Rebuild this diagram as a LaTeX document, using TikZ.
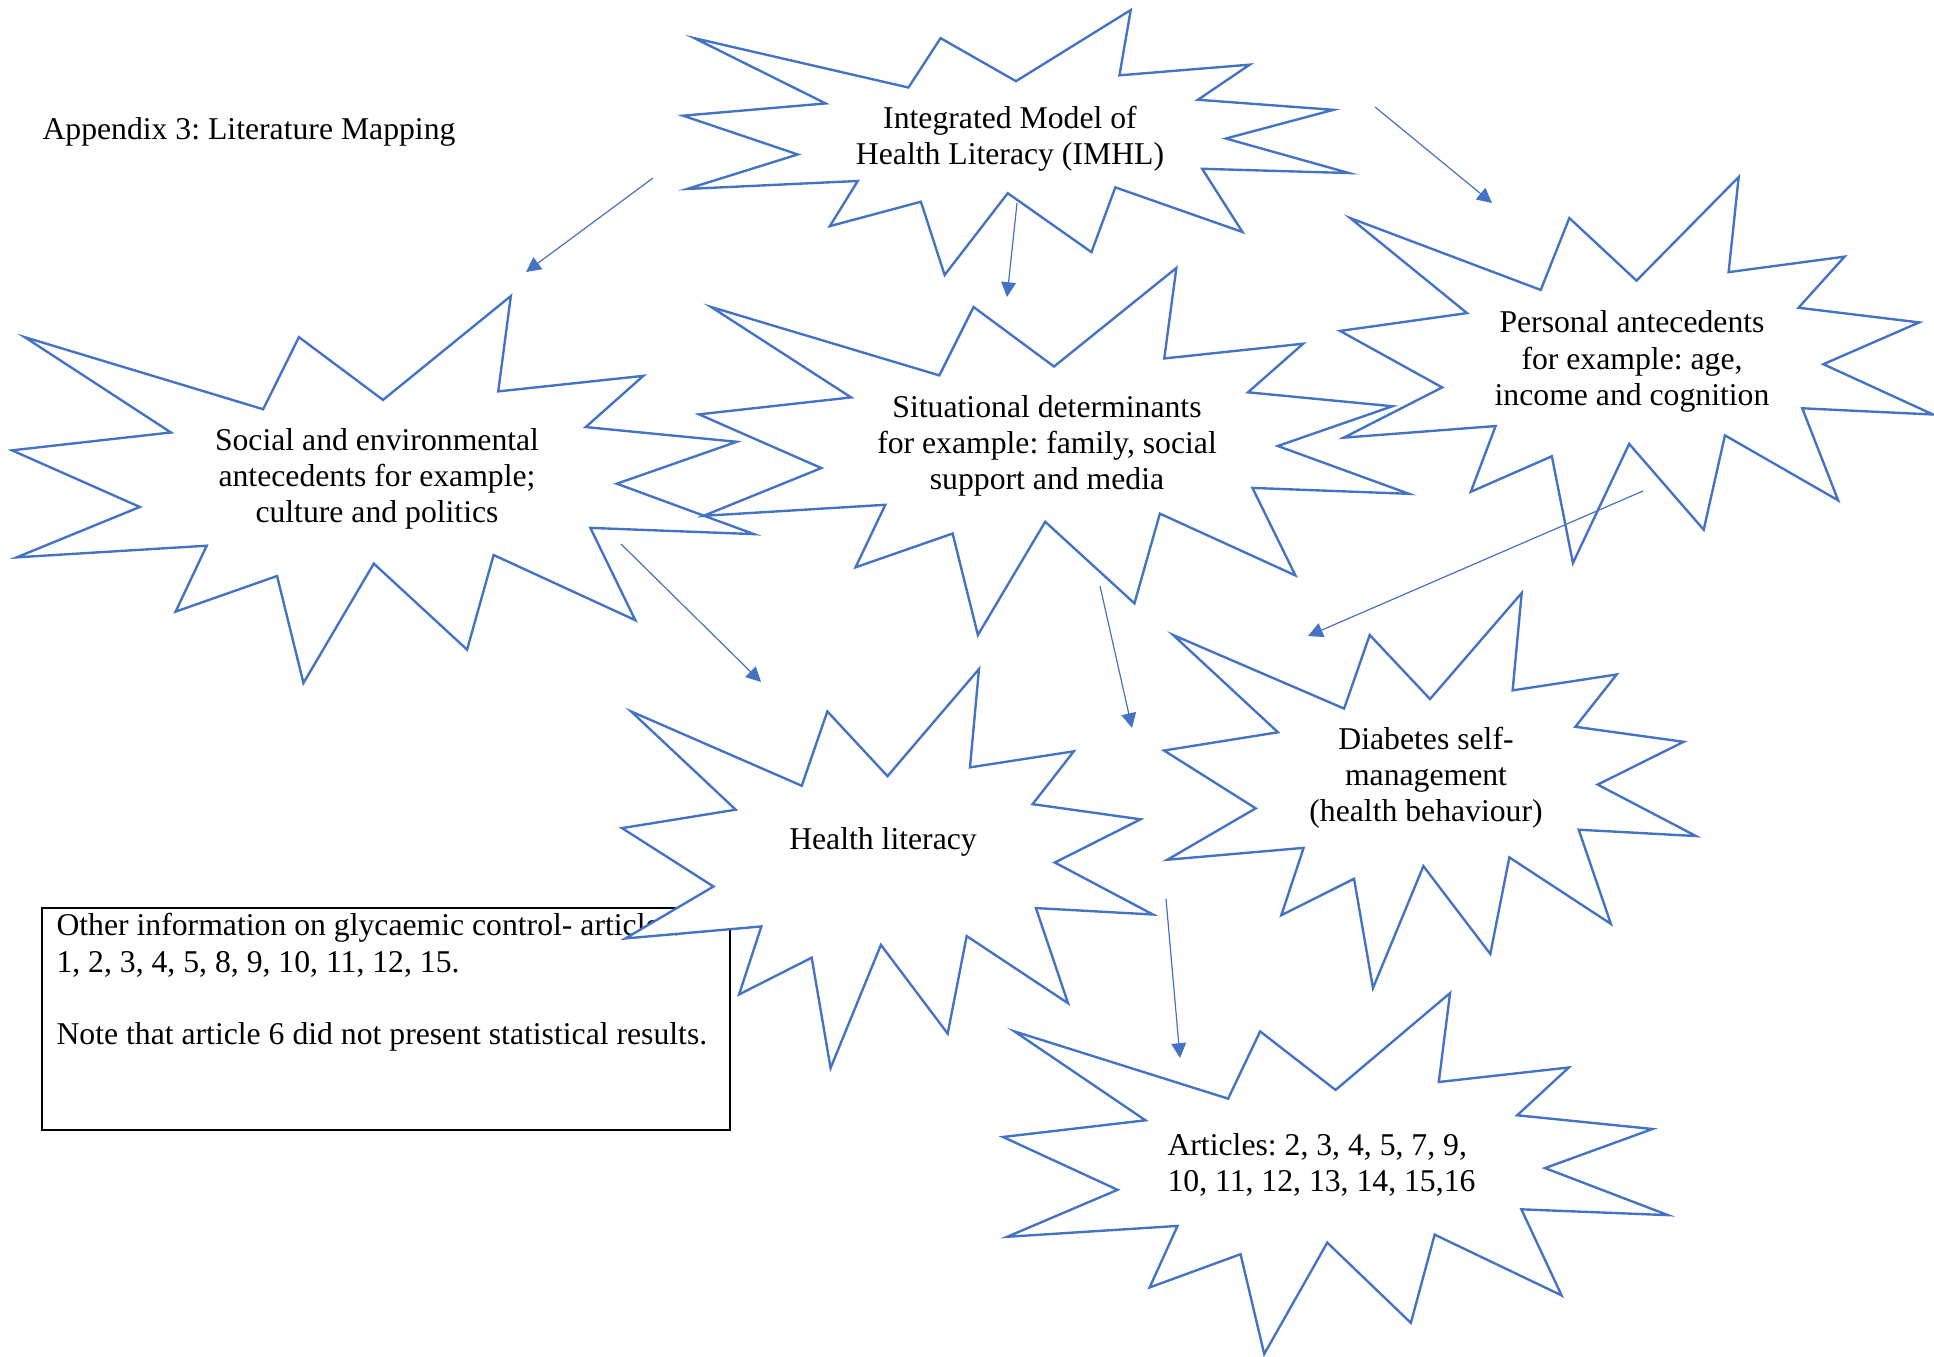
\documentclass[tikz,border=0pt]{standalone}
\usepackage{fontspec}
\setmainfont{Liberation Serif}
\usepackage{xcolor}
\usetikzlibrary{arrows.meta}
\definecolor{BurstBlue}{RGB}{68,114,196}
\newcommand{\burst}[4]{%
  \begin{scope}[shift={(#1,#2)},xscale=#3/100,yscale=#4/100]
    \draw[burstline] (50,26.85) -- (67.23,0) -- (65.53,24.65) -- (85.09,20.63)
      -- (77.32,33.87) -- (97.67,37.67) -- (81.51,48.50) -- (100,61.53)
      -- (77.95,59.92) -- (84.00,83.77) -- (64.91,66.93) -- (61.33,91.38)
      -- (48.76,69.14) -- (39.28,100) -- (35.72,72.35) -- (22.05,81.56)
      -- (26.24,64.52) -- (0.63,67.53) -- (17.23,54.51) -- (0,39.88)
      -- (21.42,35.26) -- (1.71,10.63) -- (33.85,29.26) -- (38.67,10.63)
      -- cycle;
  \end{scope}}

\begin{document}
\begin{tikzpicture}[
  x=0.3785pt, y=-0.3785pt,
  >={Triangle[length=5.6pt,width=5.6pt]},
  burstline/.style={draw=BurstBlue,fill=white,line width=0.9pt},
  bursttext/.style={align=center,inner sep=0pt,font=\fontsize{12}{13.7}\selectfont\frenchspacing},
  notebox/.style={draw,line width=0.75pt,anchor=north west,minimum width=260.4pt,minimum height=84pt},
  link/.style={->,draw=BurstBlue,fill=BurstBlue,line width=0.45pt}
]
\useasboundingbox (0,0) rectangle (1934,1356);
\node[bursttext,anchor=base west] (title) at (42,139) {Appendix 3: Literature Mapping};
\node[notebox] (note) at (41,907) {};
\node[bursttext,align=left,anchor=north west] (notetext) at (56,913)
  {Other information on glycaemic control- articles:\\1, 2, 3, 4, 5, 8, 9, 10, 11, 12, 15.\\[13.7pt]Note that article 6 did not present statistical results.};
\burst{683}{10}{666}{265}
\node[bursttext] (imhl) at (1010,138.5) {Integrated Model of\\Health Literacy (IMHL)};
\burst{12}{296}{742}{387}
\node[bursttext] (social) at (377,479) {Social and environmental\\antecedents for example;\\culture and politics};
\burst{699}{268}{710}{367}
\node[bursttext] (situation) at (1047,446) {Situational determinants\\for example: family, social\\support and media};
\burst{1340}{177}{593}{386}
\node[bursttext] (personal) at (1632,361.5) {Personal antecedents\\for example: age,\\income and cognition};
\burst{622}{669}{531}{399}
\node[bursttext] (hlit) at (883,841.5) {Health literacy};
\burst{1164}{593}{532}{395}
\node[bursttext] (selfman) at (1426,778) {Diabetes self-\\management\\(health behaviour)};
\burst{1003}{993}{665}{361}
\node[bursttext,align=left,anchor=west] (articles) at (1167,1165) {Articles: 2, 3, 4, 5, 7, 9,\\10, 11, 12, 13, 14, 15,16};
\coordinate (imhlA) at (653,178);
\coordinate (socialA) at (526,272);
\coordinate (imhlB) at (1017,203);
\coordinate (situationA) at (1007,297);
\coordinate (imhlC) at (1375,107);
\coordinate (personalA) at (1492,203);
\coordinate (socialB) at (621,544);
\coordinate (hlitA) at (761,682);
\coordinate (situationB) at (1100,586);
\coordinate (hlitB) at (1132,728);
\coordinate (personalB) at (1643,491);
\coordinate (selfmanA) at (1308,636);
\coordinate (hlitC) at (1166,899);
\coordinate (articlesA) at (1180,1058);
\draw[link] (imhlA) -- (socialA);
\draw[link] (imhlB) -- (situationA);
\draw[link] (imhlC) -- (personalA);
\draw[link] (socialB) -- (hlitA);
\draw[link] (situationB) -- (hlitB);
\draw[link] (personalB) -- (selfmanA);
\draw[link] (hlitC) -- (articlesA);
\end{tikzpicture}
\end{document}
